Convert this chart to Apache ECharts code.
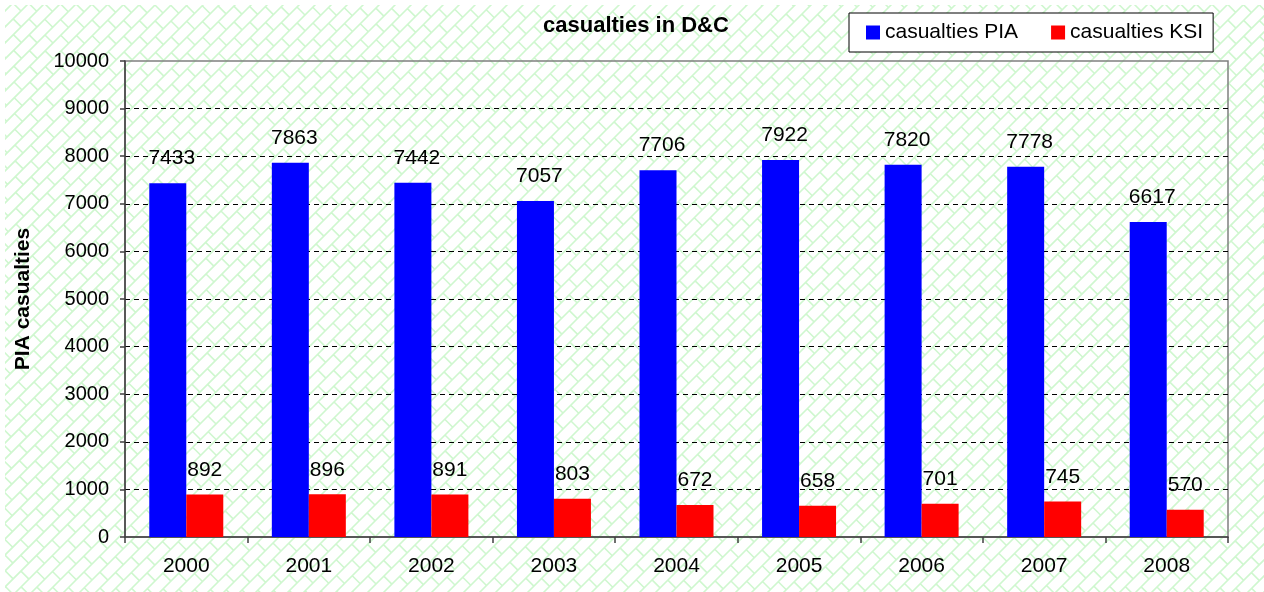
<!DOCTYPE html>
<html>
<head>
<meta charset="utf-8">
<script src="https://cdn.jsdelivr.net/npm/echarts@6/dist/echarts.min.js"></script>
<style>
  html, body { margin: 0; padding: 0; background: #ffffff; }
  #chart { width: 1264px; height: 592px; }
</style>
</head>
<body>
<div id="chart"></div>
<script>
// Years on the category axis
const years = ['2000', '2001', '2002', '2003', '2004', '2005', '2006', '2007', '2008'];
// Casualties per year
const casualtiesPIA = [7433, 7863, 7442, 7057, 7706, 7922, 7820, 7778, 6617];
const casualtiesKSI = [892, 896, 891, 803, 672, 658, 701, 745, 570];

const FONT = "'Liberation Sans', Arial, sans-serif";
const W = 1264, H = 592;

// Light green diagonal-brick fill used behind the whole chart
function brickCanvas() {
  const c = document.createElement('canvas');
  c.width = W; c.height = H;
  const ctx = c.getContext('2d');
  ctx.fillStyle = '#ffffff';
  ctx.fillRect(0, 0, W, H);
  ctx.save();
  ctx.beginPath();
  ctx.rect(5, 5, W - 5, H - 5);
  ctx.clip();
  ctx.rotate(-Math.PI / 4);
  ctx.strokeStyle = '#cff7cf';
  ctx.lineWidth = 1.6;
  const w = 16 / Math.SQRT2;   // row spacing
  const L = 22;                // brick length
  ctx.beginPath();
  for (let k = -200; k <= 200; k++) {
    const v = k * w;
    ctx.moveTo(-1500, v); ctx.lineTo(1500, v);
    const off = (k % 2 === 0) ? 0 : L / 2;
    for (let u = -1500 + off; u <= 1500; u += L) {
      ctx.moveTo(u, v); ctx.lineTo(u, v + w);
    }
  }
  ctx.stroke();
  ctx.restore();
  return c;
}

const chart = echarts.init(document.getElementById('chart'), null, { renderer: 'canvas' });

chart.setOption({
  animation: false,
  backgroundColor: '#ffffff',
  graphic: [{
    type: 'image', left: 0, top: 0, z: -100, silent: true,
    style: { image: brickCanvas(), width: W, height: H }
  }],
  title: {
    text: 'casualties in D&C',
    left: 543,
    top: 15,
    padding: 0,
    textStyle: { fontFamily: FONT, fontSize: 22, fontWeight: 'bold', color: '#000' }
  },
  legend: {
    left: 849,
    top: 13,
    padding: [9, 10, 9, 17],
    itemGap: 33,
    itemWidth: 14,
    itemHeight: 14,
    icon: 'rect',
    borderColor: '#000',
    borderWidth: 1,
    backgroundColor: '#ffffff',
    textStyle: { fontFamily: FONT, fontSize: 21, color: '#000' },
    data: ['casualties PIA', 'casualties KSI']
  },
  grid: {
    left: 125, right: 36, top: 61, bottom: 55,
    show: true,
    borderColor: '#808080',
    borderWidth: 1.5,
    backgroundColor: 'transparent'
  },
  xAxis: {
    type: 'category',
    data: years,
    axisLine: { lineStyle: { color: '#404040', width: 1.5 } },
    axisTick: { show: true, alignWithLabel: false, length: 6, lineStyle: { color: '#404040', width: 1.5 } },
    axisLabel: { fontFamily: FONT, fontSize: 21, color: '#000', margin: 19 }
  },
  yAxis: {
    type: 'value',
    min: 0, max: 10000, interval: 1000,
    name: 'PIA casualties',
    nameLocation: 'middle',
    nameRotate: 90,
    nameGap: 91,
    nameTextStyle: { fontFamily: FONT, fontSize: 21, fontWeight: 'bold', color: '#000' },
    axisLine: { show: true, lineStyle: { color: '#404040', width: 1.5 } },
    axisTick: { show: true, length: 5, lineStyle: { color: '#404040', width: 1.5 } },
    axisLabel: {
      fontFamily: FONT, fontSize: 20, color: '#000', margin: 16,
      formatter: (v) => String(v)
    },
    splitLine: {
      show: true,
      showMinLine: false,
      showMaxLine: false,
      lineStyle: { color: '#000', type: [5, 4], width: 1 }
    }
  },
  series: [
    {
      name: 'casualties PIA',
      type: 'bar',
      data: casualtiesPIA,
      barWidth: 37,
      barGap: '0%',
      itemStyle: { color: '#0000ff' },
      label: {
        show: true, position: 'top', distance: 14, offset: [4, 0],
        fontFamily: FONT, fontSize: 21, color: '#000'
      }
    },
    {
      name: 'casualties KSI',
      type: 'bar',
      data: casualtiesKSI,
      barWidth: 37,
      barGap: '0%',
      itemStyle: { color: '#ff0000' },
      label: {
        show: true, position: 'top', distance: 14,
        fontFamily: FONT, fontSize: 21, color: '#000'
      }
    }
  ]
});
</script>
</body>
</html>
